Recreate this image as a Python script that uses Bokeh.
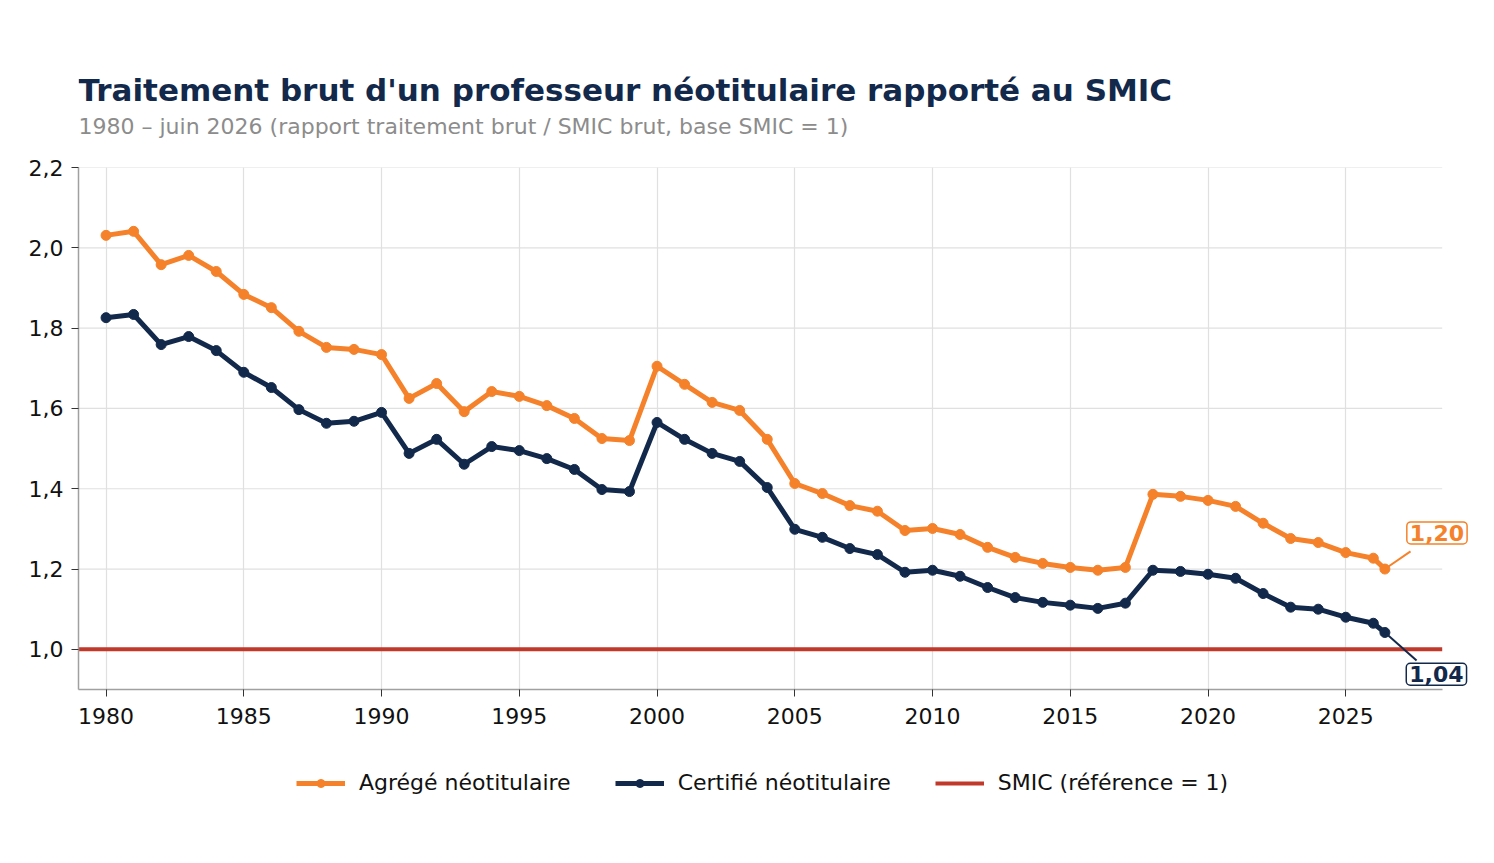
from bokeh.plotting import figure
from bokeh.models import Legend, LegendItem, Label, Range1d, FixedTicker, ColumnDataSource
from bokeh.layouts import column
from bokeh.embed import file_html
from bokeh.resources import INLINE

#### DATA ####
years = [1980, 1981, 1982, 1983, 1984, 1985, 1986, 1987, 1988, 1989,
         1990, 1991, 1992, 1993, 1994, 1995, 1996, 1997, 1998, 1999,
         2000, 2001, 2002, 2003, 2004, 2005, 2006, 2007, 2008, 2009,
         2010, 2011, 2012, 2013, 2014, 2015, 2016, 2017, 2018, 2019,
         2020, 2021, 2022, 2023, 2024, 2025, 2026, 2026.42]  # last = juin 2026

agrege = [2.031, 2.041, 1.958, 1.981, 1.941, 1.884, 1.851, 1.792, 1.752, 1.747,
          1.734, 1.625, 1.662, 1.592, 1.642, 1.630, 1.607, 1.575, 1.525, 1.520,
          1.705, 1.660, 1.615, 1.595, 1.523, 1.413, 1.388, 1.358, 1.344, 1.296,
          1.301, 1.286, 1.254, 1.229, 1.214, 1.204, 1.197, 1.204, 1.386, 1.381,
          1.371, 1.356, 1.314, 1.276, 1.266, 1.241, 1.227, 1.200]

certifie = [1.826, 1.834, 1.759, 1.779, 1.744, 1.690, 1.652, 1.597, 1.563, 1.568,
            1.590, 1.488, 1.523, 1.461, 1.505, 1.495, 1.475, 1.448, 1.398, 1.393,
            1.565, 1.523, 1.488, 1.468, 1.403, 1.299, 1.279, 1.251, 1.236, 1.192,
            1.197, 1.182, 1.154, 1.129, 1.117, 1.110, 1.102, 1.115, 1.197, 1.194,
            1.187, 1.177, 1.139, 1.105, 1.100, 1.080, 1.065, 1.042]

smic_ref = 1.0

x_ticks = [1980, 1985, 1990, 1995, 2000, 2005, 2010, 2015, 2020, 2025]
y_ticks = [1.0, 1.2, 1.4, 1.6, 1.8, 2.0, 2.2]
y_tick_labels = ["1,0", "1,2", "1,4", "1,6", "1,8", "2,0", "2,2"]

title_text = "Traitement brut d'un professeur n\u00e9otitulaire rapport\u00e9 au SMIC"
subtitle_text = "1980 \u2013 juin 2026 (rapport traitement brut / SMIC brut, base SMIC = 1)"

#### STYLE ####
ORANGE = "#f5822a"
NAVY = "#13294b"
RED = "#c0392b"
GRID = "#e0e0e0"
FONT = "DejaVu Sans"
W = 1478

x_start, x_end = 1979, 2028.5   # visible axis extent
x_frame_end = 2029.6            # a bit more room so the end labels are not clipped
y_start, y_end = 0.9, 2.2


def blank_strip(height):
    #figure used only to hold texts or the legend, same side borders as the chart
    f = figure(width=W, height=height, output_backend="svg", toolbar_location=None,
               x_range=Range1d(0, 1), y_range=Range1d(0, 1),
               min_border_left=78, min_border_right=6, min_border_top=0, min_border_bottom=0)
    f.axis.visible = False
    f.grid.visible = False
    f.outline_line_color = None
    return f


#### HEADER (title + subtitle) ####
head = blank_strip(150)
head.add_layout(Label(x=0, y=61, x_units="screen", y_units="screen", text=title_text,
                      text_font=FONT, text_font_size="31px", text_font_style="bold",
                      text_color=NAVY, text_baseline="alphabetic"))
head.add_layout(Label(x=0, y=24, x_units="screen", y_units="screen", text=subtitle_text,
                      text_font=FONT, text_font_size="22px", text_color="#8c8c8c",
                      text_baseline="alphabetic"))

#### MAIN CHART ####
p = figure(width=W, height=588, output_backend="svg", toolbar_location=None,
           x_range=Range1d(x_start, x_frame_end), y_range=Range1d(y_start, y_end),
           min_border_left=78, min_border_right=6, min_border_top=17,
           min_border_bottom=49)
p.outline_line_color = None

#axes
for ax in (p.xaxis, p.yaxis):
    ax.axis_line_color = "#a0a0a0"
    ax.axis_line_width = 1.5
    ax.major_tick_line_color = "#333333"
    ax.major_tick_out = 7
    ax.major_tick_in = 0
    ax.minor_tick_line_color = None
    ax.major_label_text_font = FONT
    ax.major_label_text_font_size = "22px"
    ax.major_label_text_color = "#111111"
    ax.major_label_standoff = 8
p.xaxis.major_label_standoff = 11

p.xaxis.bounds = (x_start, x_end)
p.xaxis.ticker = FixedTicker(ticks=x_ticks)
p.yaxis.ticker = FixedTicker(ticks=y_ticks)
p.yaxis.major_label_overrides = dict(zip(y_ticks, y_tick_labels))

#vertical grid from bokeh, horizontal grid stops at the axis end
p.xgrid.grid_line_color = GRID
p.xgrid.grid_line_width = 1.2
p.ygrid.grid_line_color = None
p.segment(x0=x_start, x1=x_end, y0=y_ticks, y1=y_ticks, line_color=GRID,
          line_width=1.2, level="underlay")

#SMIC reference line
p.line(x=[x_start, x_end], y=[smic_ref, smic_ref], line_color=RED, line_width=4)

#series
src = ColumnDataSource(dict(year=years, agrege=agrege, certifie=certifie))
p.line("year", "agrege", source=src, line_color=ORANGE, line_width=5)
p.scatter("year", "agrege", source=src, size=10, color=ORANGE)
p.line("year", "certifie", source=src, line_color=NAVY, line_width=5)
p.scatter("year", "certifie", source=src, size=10, color=NAVY)

#end-of-series value boxes with a small leader line
def end_label(yv, box_dx, box_dy, lead_dx, lead_dy, color):
    x0 = years[-1]
    p.segment(x0=[x0], y0=[yv], x1=[x0 + lead_dx], y1=[yv + lead_dy],
              line_color=color, line_width=2)
    p.add_layout(Label(x=x0 + box_dx, y=yv + box_dy, text=("%.2f" % yv).replace(".", ","),
                       text_font=FONT, text_font_size="22px", text_font_style="bold",
                       text_color=color, text_align="center", text_baseline="middle",
                       background_fill_color="white", border_line_color=color,
                       border_line_width=1.5, padding=3, border_radius=4))

end_label(agrege[-1], 1.89, 0.090, 0.93, 0.044, ORANGE)
end_label(certifie[-1], 1.87, -0.104, 1.15, -0.070, NAVY)

#### LEGEND (own strip under the chart) ####
lg = blank_strip(88)

#legend-only renderers, kept outside the visible range
hid = dict(x=[-5, -4], y=[-5, -5])
r_ag = [lg.line(line_color=ORANGE, line_width=5, **hid),
        lg.scatter(size=10, color=ORANGE, **hid)]
r_ce = [lg.line(line_color=NAVY, line_width=5, **hid),
        lg.scatter(size=10, color=NAVY, **hid)]
r_sm = [lg.line(line_color=RED, line_width=4, **hid)]

legend = Legend(items=[LegendItem(label="Agr\u00e9g\u00e9 n\u00e9otitulaire", renderers=r_ag),
                       LegendItem(label="Certifi\u00e9 n\u00e9otitulaire", renderers=r_ce),
                       LegendItem(label="SMIC (r\u00e9f\u00e9rence = 1)", renderers=r_sm)],
                orientation="horizontal", location=(218, 31),
                label_text_font=FONT, label_text_font_size="22px", label_text_color="#111111",
                glyph_width=49, glyph_height=20, label_standoff=14, spacing=44,
                border_line_color=None, background_fill_alpha=0, margin=0, padding=4)
lg.add_layout(legend)

open("out.html", "w").write(file_html(column(head, p, lg), INLINE))
